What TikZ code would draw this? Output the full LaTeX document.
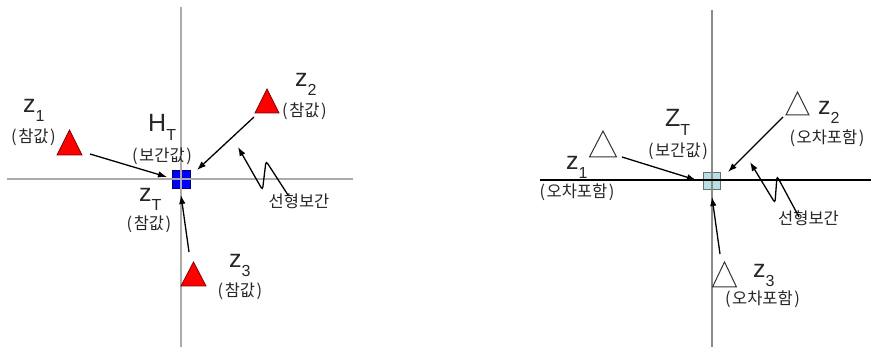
\documentclass[tikz,border=0pt]{standalone}
\usepackage{fontspec}
\usepackage{graphicx}
\setmainfont{Liberation Sans}
\newfontfamily\krfont{Noto Sans CJK KR}
\usetikzlibrary{arrows.meta}
\definecolor{axisgray}{HTML}{ABABAB}
\definecolor{axisdark}{HTML}{8A8A8A}
\definecolor{redfill}{HTML}{FF0000}
\definecolor{redline}{HTML}{800000}
\definecolor{bluefill}{HTML}{0000FF}
\definecolor{blueline}{HTML}{00006A}
\definecolor{cyanfill}{HTML}{B7E0E2}
\definecolor{cyanline}{HTML}{5E7070}
\newcommand{\mylab}[2]{#1\raisebox{-8.5pt}{\fontsize{16}{16}\selectfont #2}}
\newcommand{\krpar}[1]{(\hspace{1.5pt}#1\hspace{1.5pt})}
\begin{document}
\begin{tikzpicture}[x=1pt,y=-1pt,
  axisline/.style={draw=axisgray, line width=1.5pt},
  axisblack/.style={draw=black, line width=1.3pt},
  axisv/.style={draw=axisdark, line width=1.2pt},
  sqnode/.style={rectangle, minimum size=18pt, inner sep=0pt, line width=1pt},
  redtri/.style={fill=redfill, draw=redline, line width=0.8pt, line join=miter},
  whitetri/.style={fill=white, draw=black!80, line width=1pt, line join=miter},
  arr/.style={draw=black, line width=1.3pt, -{Latex[length=9pt,width=6.5pt]}},
  squig/.style={draw=black, line width=1.3pt, rounded corners=3pt, -{Latex[length=9pt,width=6.5pt]}},
  lbl/.style={anchor=base west, inner sep=0pt, font=\fontsize{25}{25}\selectfont, text=black!85},
  krlbl/.style={inner sep=0pt, font=\krfont\fontsize{16.5}{16.5}\selectfont, text=black!85}
]
\useasboundingbox (0,0) rectangle (871,347);

% ---------------- left panel ----------------
\node[sqnode, fill=bluefill, draw=blueline] (HT) at (181,180) {};
\coordinate (lvtop) at (181,7);
\coordinate (lvbot) at (181,347);
\coordinate (lhl) at (7,179);
\coordinate (lhr) at (353,179);
\draw[axisline] (lvtop) -- (lvbot);
\draw[axisline] (lhl) -- (lhr);

\coordinate (lt1) at (69.5,142.5);
\coordinate (lt2) at (267,101);
\coordinate (lt3) at (193.5,274);
\draw[redtri] (lt1) ++(-12.5,12.5) -- ++(25,0) -- ++(-12.5,-25) -- cycle;
\draw[redtri] (lt2) ++(-12,12) -- ++(24,0) -- ++(-12,-24) -- cycle;
\draw[redtri] (lt3) ++(-12.5,12) -- ++(25,0) -- ++(-12.5,-24) -- cycle;

\node[lbl] (lz1) at (23,113) {\mylab{z}{1}};
\node[krlbl] (lc1) at (33.5,137) {\krpar{참값}};
\node[lbl] (lh) at (148,132) {\mylab{H}{T}};
\node[krlbl] (lbg) at (162,156) {\krpar{보간값}};
\node[lbl] (lz2) at (295,87) {\mylab{z}{2}};
\node[krlbl] (lc2) at (304.5,111) {\krpar{참값}};
\node[lbl] (lzt) at (139,202) {\mylab{z}{T}};
\node[krlbl] (lct) at (149,224.5) {\krpar{참값}};
\node[lbl] (lz3) at (229,268) {\mylab{z}{3}};
\node[krlbl] (lc3) at (240,291.5) {\krpar{참값}};
\node[krlbl] (llin) at (299,201.5) {선형보간};

\coordinate (la1s) at (90,154);
\coordinate (la1e) at (167,177);
\coordinate (la2s) at (254,117);
\coordinate (la2e) at (197,170);
\coordinate (la3s) at (189,252);
\coordinate (la3e) at (181,195);
\coordinate (lsqs) at (288,195);
\coordinate (lsqp) at (266,161);
\coordinate (lsqb) at (262.5,190);
\coordinate (lsqe) at (238,147);
\draw[arr] (la1s) -- (la1e);
\draw[arr] (la2s) -- (la2e);
\draw[arr] (la3s) -- (la3e);
\draw[squig] (lsqs) -- (lsqp) -- (lsqb) -- (lsqe);

% ---------------- right panel ----------------
\node[sqnode, fill=cyanfill, draw=cyanline, minimum size=17pt] (ZT) at (712,181) {};
\coordinate (rvtop) at (712,10);
\coordinate (rvbot) at (712,347);
\coordinate (rhl) at (540,180);
\coordinate (rhr) at (871,180);
\draw[axisv] (rvtop) -- (rvbot);
\draw[axisblack] (rhl) -- (rhr);

\coordinate (rt1) at (603,144);
\coordinate (rt2) at (797.5,103.5);
\coordinate (rt3) at (724.5,274.5);
\draw[whitetri] (rt1) ++(-13.5,13) -- ++(27,0) -- ++(-13.5,-26) -- cycle;
\draw[whitetri] (rt2) ++(-11.5,11.5) -- ++(23,0) -- ++(-11.5,-23) -- cycle;
\draw[whitetri] (rt3) ++(-12,12.5) -- ++(24,0) -- ++(-12,-25) -- cycle;

\node[lbl] (rzt) at (665,127) {\mylab{Z}{T}};
\node[krlbl] (rbg) at (678,151) {\krpar{보간값}};
\node[lbl] (rz1) at (566,170) {\mylab{z}{1}};
\node[krlbl] (rc1) at (577,192) {\krpar{오차포함}};
\node[lbl] (rz2) at (818,115) {\mylab{z}{2}};
\node[krlbl] (rc2) at (827,138.5) {\krpar{오차포함}};
\node[lbl] (rz3) at (753,278) {\mylab{z}{3}};
\node[krlbl] (rc3) at (762.5,299.5) {\krpar{오차포함}};
\node[krlbl] (rlin) at (808.5,218) {선형보간};

\coordinate (ra1s) at (622,157);
\coordinate (ra1e) at (696,180);
\coordinate (ra2s) at (783,117);
\coordinate (ra2e) at (728,172);
\coordinate (ra3s) at (720,254);
\coordinate (ra3e) at (712,197);
\coordinate (rsqs) at (799,217);
\coordinate (rsqp) at (777,176);
\coordinate (rsqb) at (775,203);
\coordinate (rsqe) at (750,162);
\draw[arr] (ra1s) -- (ra1e);
\draw[arr] (ra2s) -- (ra2e);
\draw[arr] (ra3s) -- (ra3e);
\draw[squig] (rsqs) -- (rsqp) -- (rsqb) -- (rsqe);
\end{tikzpicture}
\end{document}
